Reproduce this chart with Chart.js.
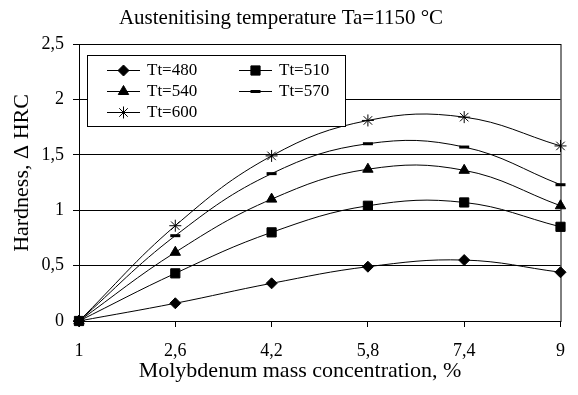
<!DOCTYPE html>
<html lang="en">
<head>
  <meta charset="UTF-8">
  <title>Austenitising temperature Ta=1150 °C</title>
  <script src="https://cdn.jsdelivr.net/npm/chart.js"></script>
  <style>
    html, body { margin: 0; padding: 0; background: #fff; }
    canvas { display: block; }
  </style>
</head>
<body>
  <canvas id="graficoDureza" width="578" height="395"></canvas>

  <script>
    // valores
    const molybdenum = [1, 2.6, 4.2, 5.8, 7.4, 9];
    const xTickLabels = ['1', '2,6', '4,2', '5,8', '7,4', '9'];
    const yTickLabels = ['0', '0,5', '1', '1,5', '2', '2,5'];
    const seriesNames = ['Tt=480', 'Tt=510', 'Tt=540', 'Tt=570', 'Tt=600'];
    const tt480 = [0, 0.16, 0.34, 0.49, 0.55, 0.44];
    const tt510 = [0, 0.43, 0.80, 1.04, 1.07, 0.85];
    const tt540 = [0, 0.62, 1.10, 1.37, 1.36, 1.04];
    const tt570 = [0, 0.77, 1.33, 1.60, 1.57, 1.23];
    const tt600 = [0, 0.86, 1.49, 1.81, 1.84, 1.58];
    const xTitle = 'Molybdenum mass concentration, %';
    const yTitle = 'Hardness, Δ HRC';

    const serif = "'Liberation Serif', 'Times New Roman', serif";
    const markers = [
      { pointStyle: 'rectRot', radius: 5.5, borderWidth: 1 },
      { pointStyle: 'rect', radius: 6.5, borderWidth: 1 },
      { pointStyle: 'triangle', radius: 6, borderWidth: 1 },
      { pointStyle: 'line', radius: 5, borderWidth: 3 },
      { pointStyle: 'star', radius: 6, borderWidth: 1 }
    ];

    const toPoints = (ys) => ys.map((y, i) => ({ x: molybdenum[i], y }));
    const allSeries = [tt480, tt510, tt540, tt570, tt600];

    const datasets = allSeries.map((ys, i) => ({
      label: seriesNames[i],
      data: toPoints(ys),
      borderColor: '#000',
      backgroundColor: '#000',
      borderWidth: 1,
      tension: 0.4,
      pointStyle: markers[i].pointStyle,
      pointRadius: markers[i].radius,
      pointBorderWidth: markers[i].borderWidth,
      pointBackgroundColor: '#000',
      pointBorderColor: '#000',
      clip: false
    }));

    // moldura da area do grafico
    const frame = {
      id: 'frame',
      beforeDatasetsDraw(chart) {
        const { ctx, chartArea: a } = chart;
        ctx.save();
        ctx.strokeStyle = '#000';
        ctx.lineWidth = 1;
        ctx.strokeRect(a.left + 0.5, a.top + 0.5, a.right - a.left, a.bottom - a.top);
        ctx.restore();
      }
    };

    // titulos dos eixos (um pouco fora do centro, como no original)
    const axisTitles = {
      id: 'axisTitles',
      afterDraw(chart) {
        const { ctx, chartArea: a } = chart;
        ctx.save();
        ctx.fillStyle = '#000';
        ctx.font = '22px ' + serif;
        ctx.textAlign = 'center';
        ctx.textBaseline = 'middle';
        ctx.fillText(xTitle, a.left + 221, a.bottom + 50);
        ctx.translate(22, a.top + 129);
        ctx.rotate(-Math.PI / 2);
        ctx.fillText(yTitle, 0, 0);
        ctx.restore();
      }
    };

    // legenda dentro da area, em duas colunas
    const boxLegend = {
      id: 'boxLegend',
      afterDraw(chart) {
        const { ctx, chartArea: a } = chart;
        const bx = a.left + 8, by = a.top + 11, bw = 258, bh = 71;
        ctx.save();
        ctx.fillStyle = '#fff';
        ctx.strokeStyle = '#000';
        ctx.lineWidth = 1;
        ctx.fillRect(bx, by, bw, bh);
        ctx.strokeRect(bx + 0.5, by + 0.5, bw, bh);
        ctx.font = '17px ' + serif;
        ctx.textBaseline = 'middle';
        chart.data.datasets.forEach((ds, i) => {
          const col = i % 2, row = Math.floor(i / 2);
          const x0 = bx + 20 + col * 132;
          const y0 = by + 15 + row * 21;
          ctx.strokeStyle = '#000';
          ctx.fillStyle = '#000';
          ctx.lineWidth = 1;
          ctx.beginPath();
          ctx.moveTo(x0, y0 + 0.5);
          ctx.lineTo(x0 + 33, y0 + 0.5);
          ctx.stroke();
          ctx.lineWidth = ds.pointBorderWidth;
          Chart.helpers.drawPoint(ctx, {
            pointStyle: ds.pointStyle,
            radius: ds.pointRadius,
            borderWidth: ds.pointBorderWidth,
            rotation: 0
          }, x0 + 16.5, y0 + 0.5);
          ctx.fillStyle = '#000';
          ctx.fillText(ds.label, x0 + 40, y0 + 1);
        });
        ctx.restore();
      }
    };

    new Chart(document.getElementById('graficoDureza'), {
      type: 'line',
      data: { datasets },
      options: {
        responsive: false,
        animation: false,
        layout: { padding: { left: 0, right: 16, top: 0, bottom: 0 } },
        plugins: {
          legend: { display: false },
          tooltip: { enabled: false },
          title: {
            display: true,
            text: 'Austenitising temperature Ta=1150 °C',
            color: '#000',
            font: { family: serif, size: 21, weight: 'normal' },
            padding: { top: 5.4, bottom: 13.4 }
          }
        },
        scales: {
          x: {
            type: 'linear',
            min: 1,
            max: 9,
            afterBuildTicks: (scale) => {
              scale.ticks = molybdenum.map(v => ({ value: v }));
            },
            afterFit: (scale) => { scale.height = 74; },
            ticks: {
              color: '#000',
              font: { family: serif, size: 18 },
              padding: 13,
              maxRotation: 0,
              autoSkip: false,
              callback: (v, i) => xTickLabels[i]
            },
            grid: {
              drawOnChartArea: false,
              drawTicks: true,
              tickLength: 6,
              color: '#000'
            },
            border: { color: '#000', width: 1 }
          },
          y: {
            min: 0,
            max: 2.5,
            afterFit: (scale) => { scale.width = 79; },
            ticks: {
              stepSize: 0.5,
              color: '#000',
              font: { family: serif, size: 18 },
              padding: 9,
              callback: (v, i) => yTickLabels[i]
            },
            grid: {
              color: '#000',
              lineWidth: 1,
              tickLength: 6
            },
            border: { color: '#000', width: 1 }
          }
        }
      },
      plugins: [frame, axisTitles, boxLegend]
    });
  </script>
</body>
</html>
